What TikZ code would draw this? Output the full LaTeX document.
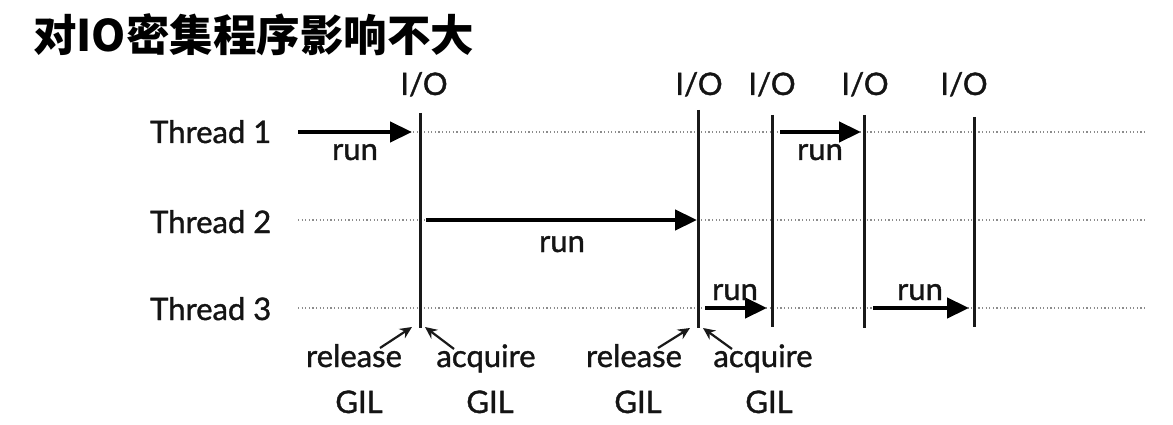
\documentclass[tikz,border=0pt]{standalone}
\usepackage{fontspec}
\setmainfont{Lato}[FakeBold=1.2]
\newfontfamily\cjk{Noto Sans CJK SC}
\usetikzlibrary{arrows.meta}
\begin{document}
\begin{tikzpicture}[x=1pt,y=-1pt,
  lbl/.style={font=\fontsize{31}{31}\selectfont, inner sep=0pt, text=black!92},
  vline/.style={line width=3pt, black!90},
  dotline/.style={black!45, dash pattern=on 1.2pt off 2.4pt, line width=1.1pt},
  runarrow/.style={line width=4.5pt, black, -{Triangle[length=22pt,width=20pt]}},
  gilarrow/.style={line width=2.2pt, black!90, -{Stealth[length=12pt,width=11pt]}}]
\useasboundingbox (0,0) rectangle (1173,425);
\fill[white] (0,0) rectangle (1173,425);

% title
\node[anchor=west, inner sep=0pt, font=\cjk\bfseries\fontsize{43.5}{43.5}\selectfont] (title) at (33,35) {对IO密集程序影响不大};

% thread labels
\node[lbl, anchor=base west] (t1) at (150,143) {Thread 1};
\node[lbl, anchor=base west] (t2) at (150,233) {Thread 2};
\node[lbl, anchor=base west] (t3) at (150,320) {Thread 3};

% dotted lanes
\coordinate (d1s) at (298,132); \coordinate (d1e) at (1145,132);
\coordinate (d2s) at (298,220); \coordinate (d2e) at (1145,220);
\coordinate (d3s) at (298,308); \coordinate (d3e) at (1145,308);
\draw[dotline] (d1s) -- (d1e);
\draw[dotline] (d2s) -- (d2e);
\draw[dotline] (d3s) -- (d3e);

% I/O labels
\node[lbl, anchor=base] (io1) at (424,95) {I/O};
\node[lbl, anchor=base] (io2) at (699,95) {I/O};
\node[lbl, anchor=base] (io3) at (772,95) {I/O};
\node[lbl, anchor=base] (io4) at (865,95) {I/O};
\node[lbl, anchor=base] (io5) at (964,95) {I/O};

% vertical lines
\coordinate (v1t) at (420,113); \coordinate (v1b) at (420,328);
\coordinate (v2t) at (698,110); \coordinate (v2b) at (698,328);
\coordinate (v3t) at (772,115); \coordinate (v3b) at (772,327);
\coordinate (v4t) at (864,115); \coordinate (v4b) at (864,328);
\coordinate (v5t) at (974,117); \coordinate (v5b) at (974,327);
\draw[vline] (v1t) -- (v1b);
\draw[vline] (v2t) -- (v2b);
\draw[vline] (v3t) -- (v3b);
\draw[vline] (v4t) -- (v4b);
\draw[vline] (v5t) -- (v5b);

% run arrows
\coordinate (a1s) at (298,132); \coordinate (a1e) at (412,132);
\coordinate (a2s) at (426,220); \coordinate (a2e) at (697,220);
\coordinate (a3s) at (780,132); \coordinate (a3e) at (861,132);
\coordinate (a4s) at (705,308); \coordinate (a4e) at (767,308);
\coordinate (a5s) at (873,308); \coordinate (a5e) at (969,308);
\draw[runarrow] (a1s) -- (a1e);
\draw[runarrow] (a2s) -- (a2e);
\draw[runarrow] (a3s) -- (a3e);
\draw[runarrow] (a4s) -- (a4e);
\draw[runarrow] (a5s) -- (a5e);

% run labels
\node[lbl, anchor=base] (r1) at (355,160) {run};
\node[lbl, anchor=base] (r2) at (562,252) {run};
\node[lbl, anchor=base] (r3) at (820,160) {run};
\node[lbl, anchor=base] (r4) at (735,300) {run};
\node[lbl, anchor=base] (r5) at (920,300) {run};

% GIL labels
\node[lbl, anchor=base] (rel1) at (354,367) {release};
\node[lbl, anchor=base] (gr1) at (359,413) {GIL};
\node[lbl, anchor=base] (acq1) at (486,367) {acquire};
\node[lbl, anchor=base] (ga1) at (490,413) {GIL};
\node[lbl, anchor=base] (rel2) at (634,367) {release};
\node[lbl, anchor=base] (gr2) at (638,413) {GIL};
\node[lbl, anchor=base] (acq2) at (763,367) {acquire};
\node[lbl, anchor=base] (ga2) at (769,413) {GIL};

% GIL arrows
\coordinate (g1s) at (380,348); \coordinate (g1e) at (412,327);
\coordinate (g2s) at (454,349); \coordinate (g2e) at (425,327);
\coordinate (g3s) at (658,348); \coordinate (g3e) at (690,328);
\coordinate (g4s) at (732,349); \coordinate (g4e) at (703,328);
\draw[gilarrow] (g1s) -- (g1e);
\draw[gilarrow] (g2s) -- (g2e);
\draw[gilarrow] (g3s) -- (g3e);
\draw[gilarrow] (g4s) -- (g4e);
\end{tikzpicture}
\end{document}
